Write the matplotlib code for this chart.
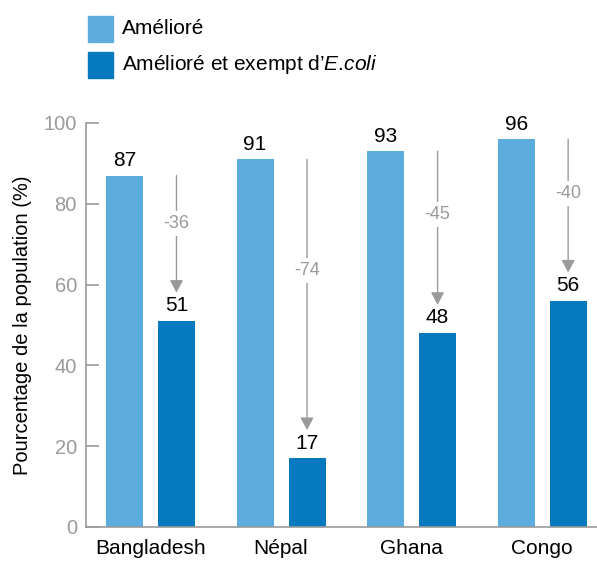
import matplotlib.pyplot as plt
import numpy as np
from matplotlib.patches import Rectangle

plt.rcParams['font.family'] = ['Liberation Sans', 'DejaVu Sans']
plt.rcParams['mathtext.fontset'] = 'custom'
plt.rcParams['mathtext.it'] = 'Liberation Sans:italic'
plt.rcParams['mathtext.rm'] = 'Liberation Sans'

# données
pays = ["Bangladesh", "Népal", "Ghana", "Congo"]
ameliore = [87, 91, 93, 96]
ameliore_ecoli = [51, 17, 48, 56]
legende = ["Amélioré", "Amélioré et exempt d’$\\mathit{E}$.$\\mathit{coli}$"]

c_clair = "#5DACDE"
c_fonce = "#0679BF"
gris = "#9a9a9a"

W, H = 597, 562
fig = plt.figure(figsize=(W / 100, H / 100), dpi=100)
ax = fig.add_axes([86 / W, 35 / H, 511 / W, 404 / H])

x = np.arange(len(pays))
w = 0.2835
dx = 0.199

ax.bar(x - dx, ameliore, w, color=c_clair)
ax.bar(x + dx, ameliore_ecoli, w, color=c_fonce)

for i in range(len(pays)):
    ax.text(x[i] - dx, ameliore[i] + 1.4, str(ameliore[i]), ha="center", va="bottom",
            fontsize=15, color="black")
    ax.text(x[i] + dx, ameliore_ecoli[i] + 1.4, str(ameliore_ecoli[i]), ha="center", va="bottom",
            fontsize=15, color="black")

    # flèche de la différence
    haut = ameliore[i]
    bas = ameliore_ecoli[i] + 7
    ax.annotate("", xy=(x[i] + dx, bas), xytext=(x[i] + dx, haut),
                arrowprops=dict(arrowstyle="-|>,head_width=0.4,head_length=0.75",
                                color=gris, lw=1, shrinkA=0, shrinkB=0))
    diff = ameliore_ecoli[i] - ameliore[i]
    ax.text(x[i] + dx, haut - 0.41 * (haut - bas), str(diff), ha="center", va="center",
            fontsize=13, color=gris,
            bbox=dict(facecolor="white", edgecolor="none", pad=3))

ax.set_xlim(-0.494, 3.42)
ax.set_ylim(0, 100)
ax.set_yticks([0, 20, 40, 60, 80, 100])
ax.set_xticks(x)
ax.set_xticklabels(pays, fontsize=15)
ax.tick_params(axis="x", length=0, pad=9)
ax.tick_params(axis="y", direction="in", length=9.5, width=1.2, color=gris,
               labelcolor=gris, labelsize=14.5, pad=6.5)
ax.set_ylabel("Pourcentage de la population (%)", fontsize=14.5, labelpad=8)

for s in ["top", "right"]:
    ax.spines[s].set_visible(False)
for s in ["left", "bottom"]:
    ax.spines[s].set_color(gris)
    ax.spines[s].set_linewidth(1.2)

# légende
for k, (col, lab) in enumerate(zip([c_clair, c_fonce], legende)):
    y0 = 16 + 36 * k
    fig.patches.append(Rectangle((88 / W, 1 - (y0 + 26) / H), 25 / W, 26 / H,
                                 transform=fig.transFigure, color=col))
    fig.text(122 / W, 1 - (y0 + 13) / H, lab, ha="left", va="center", fontsize=15)

fig.savefig("out.png", dpi=100)
